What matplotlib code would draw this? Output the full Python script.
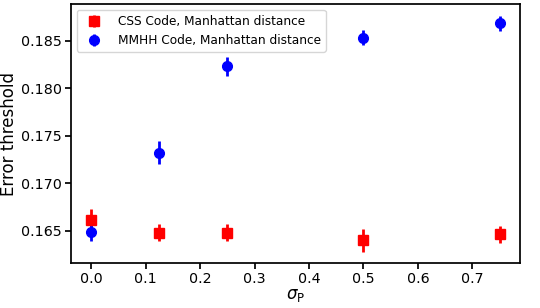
import matplotlib

matplotlib.use("Agg")
import matplotlib.pyplot as plt

sigma_p = [0.0, 0.125, 0.25, 0.5, 0.75]
css_threshold = [0.1661, 0.1648, 0.1648, 0.1640, 0.1646]
css_err = [0.0012, 0.0009, 0.0009, 0.0012, 0.0009]
mmhh_threshold = [0.1649, 0.1732, 0.1823, 0.1853, 0.1868]
mmhh_err = [0.0010, 0.0012, 0.0010, 0.0008, 0.0008]


def main() -> None:
    fig = plt.figure(figsize=(5.4, 3.08), dpi=100)
    ax = fig.add_axes([0.131, 0.145, 0.832, 0.842])
    ax.errorbar(sigma_p, css_threshold, yerr=css_err, fmt="s", color="red", ms=7, elinewidth=2,
                label="CSS Code, Manhattan distance")
    ax.errorbar(sigma_p, mmhh_threshold, yerr=mmhh_err, fmt="o", color="blue", ms=7, elinewidth=2,
                label="MMHH Code, Manhattan distance")
    ax.set_xticks([0.0, 0.1, 0.2, 0.3, 0.4, 0.5, 0.6, 0.7])
    ax.set_yticks([0.165, 0.170, 0.175, 0.180, 0.185])
    ax.tick_params(labelsize=10.3, length=4.5, width=1.25, pad=2)
    for spine in ax.spines.values():
        spine.set_linewidth(1.25)
    ax.set_xlabel(r"$\sigma_\mathrm{P}$", fontsize=12, labelpad=0)
    ax.set_ylabel("Error threshold", fontsize=12, labelpad=2)
    ax.legend(loc="upper left", fontsize=8.7, handletextpad=1.0)
    fig.savefig("out.png", dpi=100)
    plt.close(fig)


if __name__ == "__main__":
    main()
